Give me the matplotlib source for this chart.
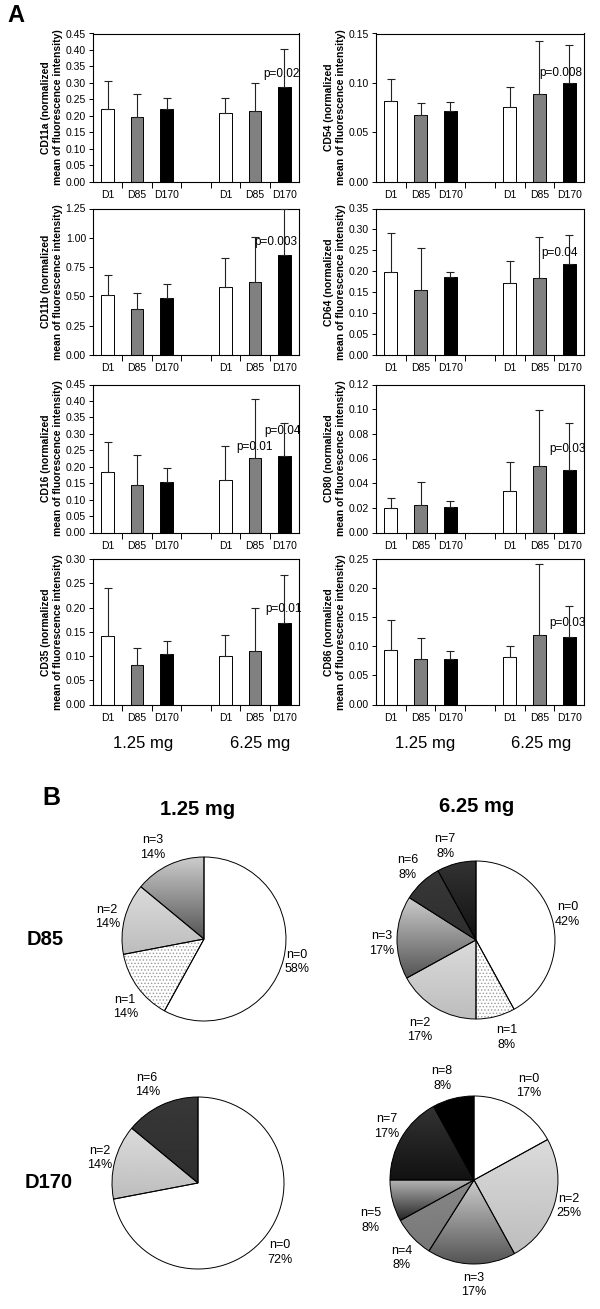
import numpy as np
import matplotlib
matplotlib.use('Agg')
import matplotlib.pyplot as plt
from matplotlib.patches import Wedge
from matplotlib.ticker import FormatStrFormatter

plt.rcParams['font.family'] = ['Liberation Sans', 'DejaVu Sans']
plt.rcParams['hatch.linewidth'] = 0.6

W, H, DPI = 600, 1309, 100

# ------------------------------------------------------------------ data
days = ['D1', 'D85', 'D170']
doses = ['1.25 mg', '6.25 mg']
markers = ['CD11a', 'CD54', 'CD11b', 'CD64', 'CD16', 'CD80', 'CD35', 'CD86']

# means (1.25 mg: D1, D85, D170, 6.25 mg: D1, D85, D170) and upper SD
cd11a_mean = [0.220, 0.195, 0.220, 0.207, 0.215, 0.288]
cd11a_sd = [0.085, 0.070, 0.035, 0.046, 0.085, 0.115]
cd54_mean = [0.082, 0.067, 0.071, 0.076, 0.089, 0.100]
cd54_sd = [0.022, 0.013, 0.010, 0.020, 0.053, 0.038]
cd11b_mean = [0.515, 0.390, 0.487, 0.577, 0.623, 0.849]
cd11b_sd = [0.168, 0.139, 0.122, 0.252, 0.386, 0.394]
cd64_mean = [0.199, 0.155, 0.186, 0.171, 0.185, 0.217]
cd64_sd = [0.093, 0.101, 0.012, 0.053, 0.098, 0.070]
cd16_mean = [0.183, 0.145, 0.154, 0.159, 0.226, 0.234]
cd16_sd = [0.091, 0.092, 0.043, 0.103, 0.181, 0.099]
cd80_mean = [0.0195, 0.0224, 0.0203, 0.034, 0.054, 0.051]
cd80_sd = [0.0083, 0.0184, 0.0051, 0.023, 0.0452, 0.0376]
cd35_mean = [0.142, 0.081, 0.105, 0.099, 0.110, 0.168]
cd35_sd = [0.099, 0.036, 0.025, 0.044, 0.089, 0.100]
cd86_mean = [0.094, 0.078, 0.078, 0.081, 0.120, 0.116]
cd86_sd = [0.052, 0.036, 0.0135, 0.019, 0.121, 0.054]

y_max = [0.45, 0.15, 1.25, 0.35, 0.45, 0.12, 0.30, 0.25]
y_step = [0.05, 0.05, 0.25, 0.05, 0.05, 0.02, 0.05, 0.05]

# p-value annotations: (bar index, label)
pvals = {
    'CD11a': [(5, 'p=0.02')],
    'CD54': [(5, 'p=0.008')],
    'CD11b': [(5, 'p=0.003')],
    'CD64': [(5, 'p=0.04')],
    'CD16': [(4, 'p=0.01'), (5, 'p=0.04')],
    'CD80': [(5, 'p=0.03')],
    'CD35': [(5, 'p=0.01')],
    'CD86': [(5, 'p=0.03')],
}

# pie data: n categories and percentages
pie_d85_125_n = [0, 1, 2, 3]
pie_d85_125_pct = [58, 14, 14, 14]
pie_d85_625_n = [0, 1, 2, 3, 6, 7]
pie_d85_625_pct = [42, 8, 17, 17, 8, 8]
pie_d170_125_n = [0, 2, 6]
pie_d170_125_pct = [72, 14, 14]
pie_d170_625_n = [0, 2, 3, 4, 5, 7, 8]
pie_d170_625_pct = [17, 25, 17, 8, 8, 17, 8]

means = [cd11a_mean, cd54_mean, cd11b_mean, cd64_mean,
         cd16_mean, cd80_mean, cd35_mean, cd86_mean]
sds = [cd11a_sd, cd54_sd, cd11b_sd, cd64_sd,
       cd16_sd, cd80_sd, cd35_sd, cd86_sd]

# ------------------------------------------------------------------ layout / style
fig = plt.figure(figsize=(W / DPI, H / DPI), dpi=DPI)


def px_axes(x0, x1, y0, y1):
    return fig.add_axes([x0 / W, 1 - y1 / H, (x1 - x0) / W, (y1 - y0) / H])


rows_px = [(33.5, 181.5), (208.5, 355), (384.5, 532.5), (559, 704.5)]
cols_px = [(93, 299), (376, 584)]
xpos = [0, 1, 2, 4, 5, 6]
bar_colors = ['white', '#808080', 'black'] * 2
# text placement for p-values: (x offset from bar, y in data units)
p_place = {
    'CD11a': [(-0.08, 0.326)],
    'CD54': [(-0.27, 0.1096)],
    'CD11b': [(-0.30, 0.966)],
    'CD64': [(-0.33, 0.243)],
    'CD16': [(0.0, 0.261), (-0.05, 0.308)],
    'CD80': [(-0.07, 0.0673)],
    'CD35': [(-0.01, 0.197)],
    'CD86': [(-0.04, 0.140)],
}

for i, mk in enumerate(markers):
    r, c = divmod(i, 2)
    y0, y1 = rows_px[r]
    x0, x1 = cols_px[c]
    ax = px_axes(x0, x1, y0, y1)
    ax.bar(xpos, means[i], width=0.43, color=bar_colors, edgecolor='black',
           linewidth=0.7, zorder=2)
    ax.errorbar(xpos, means[i], yerr=[np.zeros(6), sds[i]], fmt='none',
                ecolor='#222222', elinewidth=0.8, capsize=3, capthick=0.8,
                zorder=3, clip_on=False)
    ax.set_xlim(-0.5, 6.5)
    ax.set_ylim(0, y_max[i])
    ax.set_yticks(np.arange(0, y_max[i] + 1e-9, y_step[i]))
    ax.yaxis.set_major_formatter(FormatStrFormatter('%.2f'))
    ax.set_xticks(xpos)
    ax.set_xticklabels(days * 2)
    ax.set_xticks([0.5, 1.5, 2.5, 3.5, 4.5, 5.5], minor=True)
    ax.tick_params(axis='x', which='major', length=0, pad=6, labelsize=7.5)
    ax.tick_params(axis='x', which='minor', length=4, width=0.7, direction='out')
    ax.tick_params(axis='y', which='major', length=3, width=0.7, pad=2,
                   labelsize=7.5, direction='out')
    for s in ax.spines.values():
        s.set_linewidth(0.8)
    ax.set_ylabel(f'{mk} (normalized\nmean of fluorescence intensity)',
                  fontsize=7.5, fontweight='bold', labelpad=2, linespacing=1.25)
    for (bi, lab), (dx, yy) in zip(pvals[mk], p_place[mk]):
        ax.text(xpos[bi] + dx, yy, lab, ha='center', va='center', fontsize=8.5,
                zorder=4)

# dose labels under bar columns
for xc, lab in [(143, doses[0]), (260, doses[1]), (425, doses[0]), (541, doses[1])]:
    fig.text(xc / W, 1 - 748 / H, lab, ha='center', va='baseline', fontsize=12)

fig.text(7 / W, 1 - 22 / H, 'A', fontsize=17, fontweight='bold', va='baseline')
fig.text(42 / W, 1 - 805 / H, 'B', fontsize=18, fontweight='bold', va='baseline')
fig.text(198 / W, 1 - 815 / H, doses[0], fontsize=14.5, fontweight='bold',
         ha='center', va='baseline')
fig.text(477 / W, 1 - 812 / H, doses[1], fontsize=14.5, fontweight='bold',
         ha='center', va='baseline')
fig.text(27 / W, 1 - 945 / H, 'D85', fontsize=14.5, fontweight='bold', va='baseline')
fig.text(25 / W, 1 - 1188 / H, 'D170', fontsize=14.5, fontweight='bold', va='baseline')

# ------------------------------------------------------------------ pies
shade = {  # (top grey, bottom grey) of vertical gradient
    0: (1.0, 1.0), 1: (1.0, 1.0), 2: (0.86, 0.74), 3: (0.80, 0.33),
    4: (0.53, 0.47), 5: (0.72, 0.15), 6: (0.22, 0.18), 7: (0.20, 0.07),
    8: (0.0, 0.0),
}


def draw_pie(cx, cy, rad, ns, pcts, offsets, lim=1.6):
    half = rad * lim
    ax = fig.add_axes([(cx - half) / W, 1 - (cy + half) / H, 2 * half / W, 2 * half / H])
    wedges, _ = ax.pie(pcts, startangle=90, counterclock=False, radius=1,
                       colors=['white'] * len(ns),
                       wedgeprops=dict(linewidth=0, edgecolor='none'))
    for w, n in zip(wedges, ns):
        top, bot = shade[n]
        w.set_facecolor(str(top))
        if n == 1:
            w.set_hatch('.....')
            w.set_edgecolor('#9a9a9a')
            w.set_linewidth(0)
        if top != bot:
            th = np.radians(np.linspace(w.theta1, w.theta2, 60))
            xs = np.concatenate([[0], np.cos(th)])
            ys = np.concatenate([[0], np.sin(th)])
            grad = np.linspace(top, bot, 200)[:, None]
            im = ax.imshow(grad, cmap='gray', vmin=0, vmax=1, origin='upper',
                           extent=[xs.min(), xs.max(), ys.min(), ys.max()],
                           aspect='auto', interpolation='bilinear', zorder=1.5)
            im.set_clip_path(w)
        ax.add_patch(Wedge((0, 0), 1, w.theta1, w.theta2, fill=False,
                           edgecolor='black', linewidth=0.7, zorder=3))
    for n, p, (dx, dy) in zip(ns, pcts, offsets):
        ax.text(dx, dy, f'n={n}\n{p}%', ha='center', va='center', fontsize=9,
                linespacing=1.3)
    ax.set_xlim(-lim, lim)
    ax.set_ylim(-lim, lim)
    ax.set_aspect('equal')
    ax.axis('off')


draw_pie(204, 939, 82, pie_d85_125_n, pie_d85_125_pct,
         [(1.13, -0.28), (-0.96, -0.83), (-1.18, 0.27), (-0.63, 1.12)])
draw_pie(476, 940, 79, pie_d85_625_n, pie_d85_625_pct,
         [(1.16, 0.32), (0.39, -1.23), (-0.71, -1.14), (-1.19, -0.04),
          (-0.86, 0.92), (-0.39, 1.18)])
draw_pie(198, 1183, 86, pie_d170_125_n, pie_d170_125_pct,
         [(0.95, -0.81), (-1.14, 0.29), (-0.59, 1.14)])
draw_pie(474, 1180, 84, pie_d170_625_n, pie_d170_625_pct,
         [(0.65, 1.12), (1.13, -0.31), (0.0, -1.25), (-0.86, -0.93),
          (-1.23, -0.48), (-1.04, 0.64), (-0.38, 1.21)])

fig.savefig('out.png', dpi=DPI)
